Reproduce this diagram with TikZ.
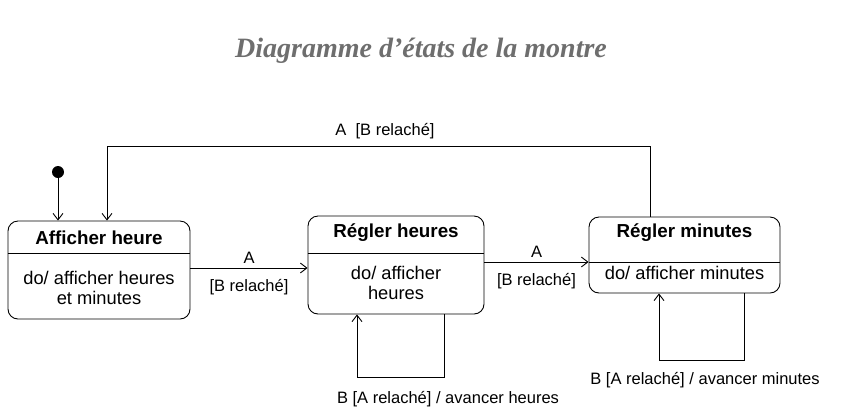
\documentclass[tikz,border=0pt]{standalone}
\usepackage{fontspec}
\setmainfont{Liberation Sans}
\newfontfamily\titrefont{Liberation Serif}
\usetikzlibrary{arrows.meta,positioning}
\tikzset{
  etat/.style={draw, rounded corners=10pt, inner sep=0pt},
  nom/.style={font=\bfseries\fontsize{18.8}{20}\selectfont},
  corps/.style={align=center, font=\fontsize{18.3}{20}\selectfont},
  garde/.style={font=\fontsize{16.5}{18}\selectfont},
  titre/.style={text=black!57, font=\titrefont\bfseries\itshape\fontsize{28}{30}\selectfont},
  init/.style={circle, fill, minimum size=12pt, inner sep=0pt}
}

\begin{document}
\begin{tikzpicture}[x=1pt, y=-1pt, line width=0.9pt, >={Straight Barb[length=6.5pt,width=10pt]}]
  \useasboundingbox (0,0) rectangle (850,416);

  %title
  \node[titre] (T) at (421,51) {Diagramme d’états de la montre};

  %the three states, boxes first
  \node[etat, minimum width=182pt, minimum height=98pt] (AH) at (99,270) {};
  \node[etat, minimum width=176pt, minimum height=98pt] (RH) at (396,265) {};
  \node[etat, minimum width=191pt, minimum height=76pt] (RM) at (684.5,255) {};

  %compartment lines
  \draw (AH.west |- 0,253) -- (AH.east |- 0,253);
  \draw (RH.west |- 0,253) -- (RH.east |- 0,253);
  \draw (RM.west |- 0,262) -- (RM.east |- 0,262);

  %names and activities
  \node[nom] (AHn) at (99,238) {Afficher heure};
  \node[corps] (AHc) at (99,288) {do/ afficher heures\\et minutes};
  \node[nom] (RHn) at (396,233) {Régler heures};
  \node[corps] (RHc) at (396,283) {do/ afficher\\heures};
  \node[nom] (RMn) at (684.5,233) {Régler minutes};
  \node[corps] (RMc) at (684.5,273) {do/ afficher minutes};

  %initial state
  \node[init] (I) at (58,172) {};
  \draw[->] (I) -- (I |- AH.north);

  %transitions on A
  \draw[->] (AH.east |- 0,268) -- (RH.west |- 0,268)
    node[garde, midway, above=1pt] (tA1) {A}
    node[garde, midway, below=8pt] (tB1) {[B relaché]};
  \draw[->] (RH.east |- 0,262) -- (RM.west |- 0,262)
    node[garde, midway, above=1pt] (tA2) {A}
    node[garde, midway, below=8pt] (tB2) {[B relaché]};

  %back to the first state
  \draw[->] (RM.north -| 650,0) |- (107,146) -- (AH.north -| 107,0);
  \node[garde] (tR) at (385,131) {A~~[B relaché]};

  %self loops on B
  \draw[->] (RH.south -| 444,0) |- (357,377) -- (RH.south -| 357,0);
  \node[garde] (bH) at (448,399) {B [A relaché] / avancer heures};
  \draw[->] (RM.south -| 744,0) |- (659,360) -- (RM.south -| 659,0);
  \node[garde] (bM) at (705,380) {B [A relaché] / avancer minutes};
\end{tikzpicture}
\end{document}
